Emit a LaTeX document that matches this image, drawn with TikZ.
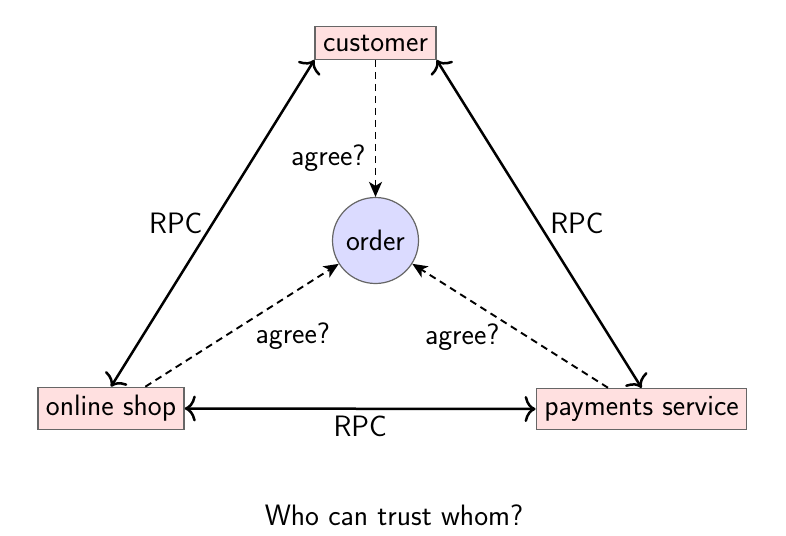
\documentclass[tikz,border=0pt]{standalone}
\usetikzlibrary{arrows.meta}
\begin{document}
\begin{tikzpicture}[x=1pt,y=-1pt,
  every node/.style={font=\fontsize{29.5}{35}\selectfont\sffamily},
  actor/.style={draw=black!60,line width=1.4pt,fill=red!12,inner xsep=8pt,inner ysep=8pt},
  obj/.style={circle,draw=black!60,line width=1.2pt,fill=blue!14,minimum size=86pt,inner sep=0pt},
  rpc/.style={line width=2.5pt,{Computer Modern Rightarrow[length=11pt,width=26pt]}-{Computer Modern Rightarrow[length=11pt,width=26pt]}},
  agr/.style={line width=1.9pt,dash pattern=on 7pt off 5pt,-{Stealth[length=15pt,width=13pt,inset=4pt]}},
  lbl/.style={inner sep=3pt}]
\useasboundingbox (0,0) rectangle (786,535);
\node[actor] (cust) at (375.5,43) {customer};
\node[actor] (shop) at (111,408.5) {online shop};
\node[actor] (pay) at (641.5,409) {payments service};
\node[obj] (order) at (375.5,240.5) {order};
\node (cap) at (394,515) {Who can trust whom?};
\draw[rpc] (cust.south west) -- node[lbl,left,pos=0.5,inner sep=9pt] {RPC} (shop.north);
\draw[rpc] (cust.south east) -- node[lbl,right,pos=0.5,inner sep=10pt] {RPC} (pay.north);
\draw[rpc] (shop.east) -- node[lbl,below,inner sep=6pt] {RPC} (pay.west);
\draw[agr] (cust) -- node[lbl,left,pos=0.72,inner sep=9pt] {agree?} (order);
\draw[agr] (shop) -- node[lbl,below right,pos=0.55] {agree?} (order);
\draw[agr] (pay) -- node[lbl,below left,pos=0.55,xshift=3pt] {agree?} (order);
\end{tikzpicture}
\end{document}
